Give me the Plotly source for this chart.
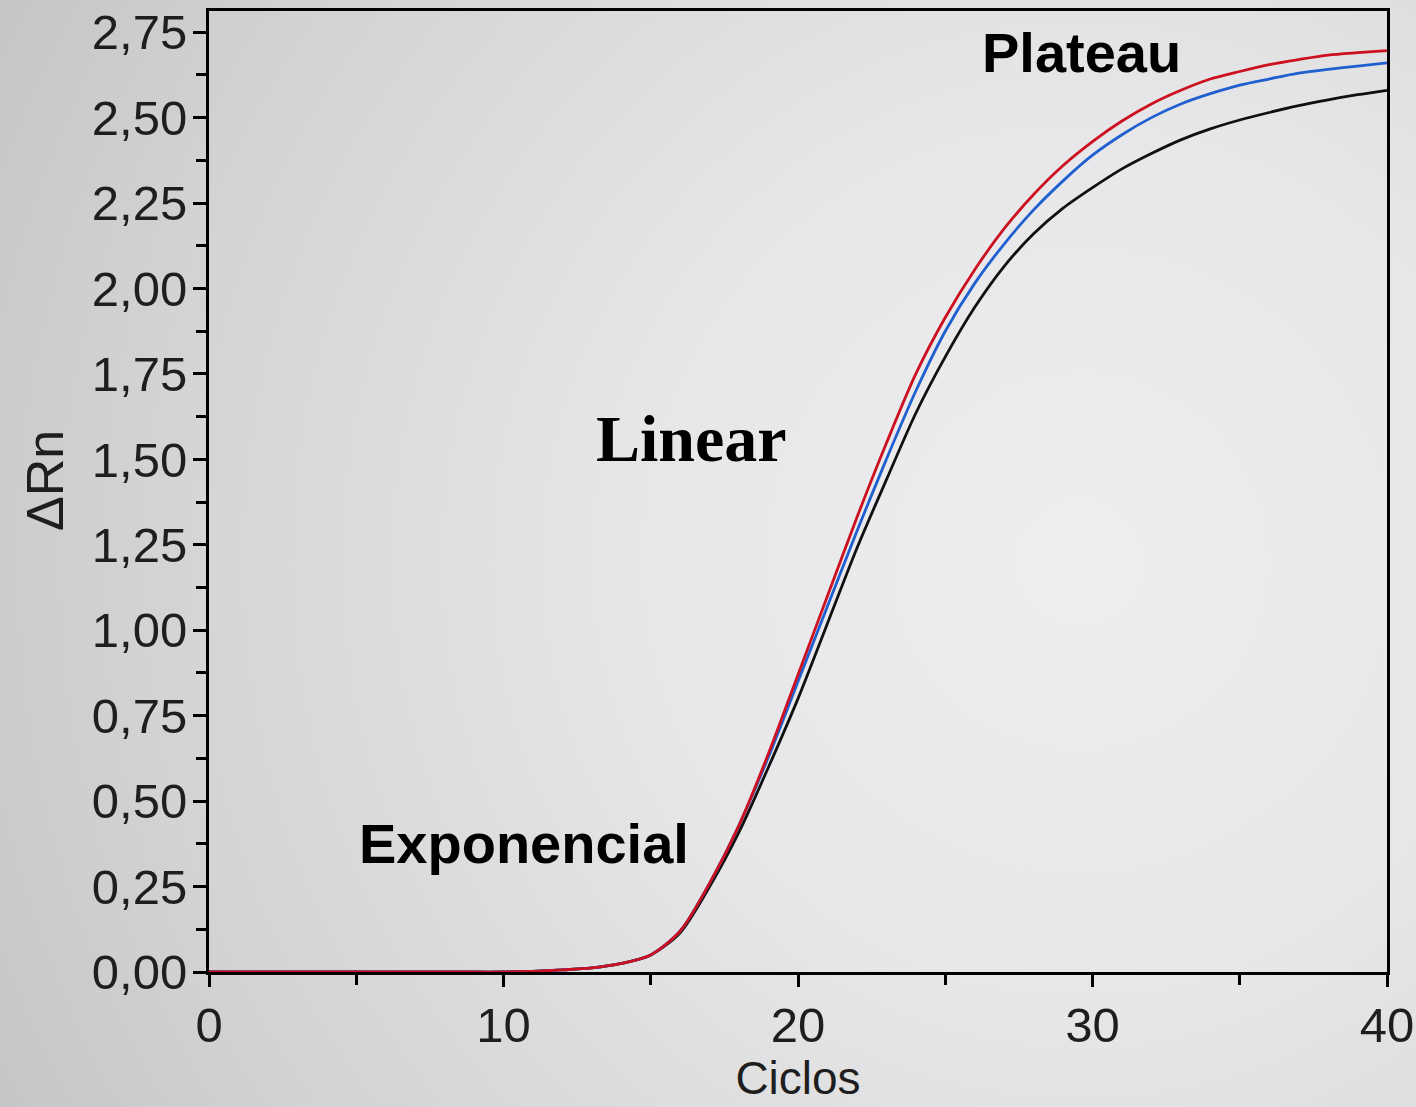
import base64
import plotly.graph_objects as go

# ---- data ----
cycles = list(range(0, 41))

red_vals = [0, 0, 0, 0, 0, 0, 0, 0, 0, 0, 0,
            0.002, 0.006, 0.012, 0.025, 0.05, 0.12, 0.26, 0.43, 0.64, 0.87,
            1.10, 1.33, 1.547, 1.75, 1.915, 2.055, 2.175, 2.275, 2.36, 2.43,
            2.49, 2.54, 2.58, 2.613, 2.635, 2.655, 2.67, 2.683, 2.69, 2.696]

blue_vals = [0, 0, 0, 0, 0, 0, 0, 0, 0, 0, 0,
             0.002, 0.006, 0.012, 0.025, 0.05, 0.12, 0.26, 0.43, 0.63, 0.85,
             1.07, 1.29, 1.50, 1.70, 1.875, 2.015, 2.13, 2.23, 2.315, 2.39,
             2.45, 2.50, 2.54, 2.57, 2.595, 2.613, 2.63, 2.641, 2.651, 2.66]

black_vals = [0, 0, 0, 0, 0, 0, 0, 0, 0, 0, 0,
              0.002, 0.006, 0.012, 0.025, 0.05, 0.115, 0.25, 0.41, 0.60, 0.80,
              1.02, 1.24, 1.44, 1.635, 1.80, 1.945, 2.065, 2.16, 2.235, 2.295,
              2.35, 2.395, 2.435, 2.467, 2.493, 2.515, 2.535, 2.552, 2.567, 2.58]

y_tick_vals = [0, 0.25, 0.5, 0.75, 1.0, 1.25, 1.5, 1.75, 2.0, 2.25, 2.5, 2.75]
y_tick_text = ["0,00", "0,25", "0,50", "0,75", "1,00", "1,25", "1,50",
               "1,75", "2,00", "2,25", "2,50", "2,75"]
x_tick_vals = [0, 10, 20, 30, 40]
x_tick_text = ["0", "10", "20", "30", "40"]

x_title = "Ciclos"
y_title = "ΔRn"
phase_labels = ["Exponencial", "Linear", "Plateau"]

# ---- figure geometry ----
W, H = 1416, 1107
L, R, T, B = 209, 29, 11, 135
PW, PH = W - L - R, H - T - B

# background gradient (radial, lighter at right-centre)
svg = f'''<svg xmlns="http://www.w3.org/2000/svg" width="{W}" height="{H}" viewBox="0 0 {W} {H}" preserveAspectRatio="none">
<defs><radialGradient id="g" gradientUnits="userSpaceOnUse" cx="1080" cy="560" r="1250">
<stop offset="0" stop-color="#eeeef0"/>
<stop offset="0.35" stop-color="#e7e7e9"/>
<stop offset="0.75" stop-color="#d3d3d3"/>
<stop offset="1" stop-color="#c4c4c4"/>
</radialGradient></defs>
<rect width="{W}" height="{H}" fill="url(#g)"/></svg>'''
bg_src = "data:image/svg+xml;base64," + base64.b64encode(svg.encode()).decode()

fig = go.Figure()

fig.add_trace(go.Scatter(x=cycles, y=black_vals, mode="lines",
                         line=dict(color="#101010", width=2.8, shape="spline", smoothing=0.8),
                         showlegend=False, hoverinfo="skip"))
fig.add_trace(go.Scatter(x=cycles, y=blue_vals, mode="lines",
                         line=dict(color="#1f5fcf", width=2.8, shape="spline", smoothing=0.8),
                         showlegend=False, hoverinfo="skip"))
fig.add_trace(go.Scatter(x=cycles, y=red_vals, mode="lines",
                         line=dict(color="#cc1020", width=2.8, shape="spline", smoothing=0.8),
                         showlegend=False, hoverinfo="skip"))

sans = "Liberation Sans, Arial, sans-serif"
tick_font = dict(family=sans, size=49, color="#1e1e1e")

fig.update_layout(
    width=W, height=H,
    margin=dict(l=L, r=R, t=T, b=B, pad=0, autoexpand=False),
    paper_bgcolor="#d6d6d6",
    plot_bgcolor="rgba(0,0,0,0)",
    images=[dict(source=bg_src, xref="paper", yref="paper",
                 x=-L / PW, y=1 + T / PH, sizex=W / PW, sizey=H / PH,
                 xanchor="left", yanchor="top", sizing="stretch", layer="below")],
    xaxis=dict(
        range=[0, 40], tickvals=x_tick_vals, ticktext=x_tick_text,
        ticks="outside", ticklen=12, tickwidth=3, tickcolor="#000",
        minor=dict(tickvals=[5, 15, 25, 35], ticks="outside", ticklen=10,
                   tickwidth=3, tickcolor="#000"),
        showline=True, linecolor="#000", linewidth=3, mirror=True,
        showgrid=False, zeroline=False, automargin=False,
        tickfont=tick_font, ticklabelstandoff=-4,
        title=dict(text=x_title, font=dict(family=sans, size=46, color="#1e1e1e"),
                   standoff=6),
    ),
    yaxis=dict(
        range=[0, 2.812], tickvals=y_tick_vals, ticktext=y_tick_text,
        ticks="outside", ticklen=13, tickwidth=3, tickcolor="#000",
        minor=dict(dtick=0.125, tick0=0.125, ticks="outside", ticklen=10,
                   tickwidth=3, tickcolor="#000"),
        showline=True, linecolor="#000", linewidth=3, mirror=True,
        showgrid=False, zeroline=False, automargin=False,
        tickfont=tick_font, ticklabelstandoff=-4,
    ),
    annotations=[
        dict(text=y_title, textangle=-90, xref="paper", yref="paper",
             x=(45 - L) / PW, y=(972 - 481) / PH, showarrow=False,
             xanchor="center", yanchor="middle",
             font=dict(family=sans, size=52, color="#1e1e1e")),
        dict(text=phase_labels[0], x=10.68, y=0.375, xref="x", yref="y",
             showarrow=False, xanchor="center", yanchor="middle",
             font=dict(family=sans, size=56, color="#000", weight="bold")),
        dict(text=phase_labels[1], x=16.37, y=1.56, xref="x", yref="y",
             showarrow=False, xanchor="center", yanchor="middle",
             font=dict(family="Liberation Serif, Times New Roman, serif", size=66,
                       color="#000", weight="bold")),
        dict(text=phase_labels[2], x=29.63, y=2.69, xref="x", yref="y",
             showarrow=False, xanchor="center", yanchor="middle",
             font=dict(family=sans, size=56, color="#000", weight="bold")),
    ],
)

fig.write_html(
    "out.html",
    config={"displayModeBar": False},
    post_script="document.body.style.margin='0';document.body.style.overflow='hidden';",
)
